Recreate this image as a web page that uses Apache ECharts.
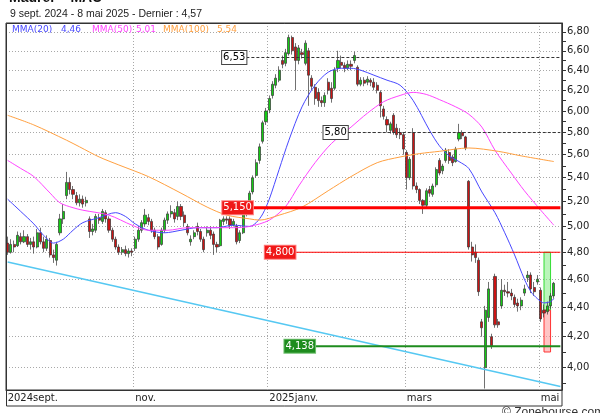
<!DOCTYPE html>
<html>
<head>
<meta charset="utf-8">
<script src="https://cdn.jsdelivr.net/npm/echarts@6/dist/echarts.min.js"></script>
<style>
html, body { margin: 0; padding: 0; background: #fff; }
#chart { width: 600px; height: 413px; }
</style>
</head>
<body>
<div id="chart"></div>
<script>
// Maurel & Prom (MAU) - cours quotidiens 9 sept. 2024 -> 8 mai 2025
var firstDay = '2024-09-09';
var lastDay = '2025-05-08';
var holidays = ['2024-12-25', '2024-12-26', '2025-01-01', '2025-04-18', '2025-04-21', '2025-05-01'];

var tickDates = ['2024-09-09', '2024-11-01', '2025-01-02', '2025-03-03', '2025-05-02'];
var tickLabels = ['2024sept.', 'nov.', '2025janv.', 'mars', 'mai'];

var yLabels = [4.0, 4.2, 4.4, 4.6, 4.8, 5.0, 5.2, 5.4, 5.6, 5.8, 6.0, 6.2, 6.4, 6.6, 6.8];
var yMinorTicks = [3.9, 4.1, 4.3, 4.5, 4.7, 4.9, 5.1, 5.3, 5.5, 5.7, 5.9, 6.1, 6.3, 6.5, 6.7];

var opens = [
  4.87, 4.80, 4.86, 4.85, 4.92, 4.88, 4.92, 4.86, 4.88, 4.84, 4.95, 4.88, 4.83, 4.89, 4.78, 4.74,
  4.95, 5.06, 5.25, 5.36, 5.30, 5.25, 5.19, 5.22, 5.19, 5.06, 4.96, 4.97, 5.07, 5.04, 5.11, 5.06,
  4.97, 4.90, 4.84, 4.80, 4.82, 4.79, 4.81, 4.83, 4.90, 4.97, 5.02, 5.07, 5.04, 4.97, 4.92, 4.86,
  4.97, 5.05, 5.10, 5.11, 5.08, 5.16, 5.09, 5.00, 4.88, 4.92, 5.00, 4.96, 4.90, 4.95, 4.97, 4.94,
  4.86, 4.85, 5.04, 5.06, 5.06, 5.01, 5.00, 4.89, 4.95, 5.12, 5.17, 5.28, 5.42, 5.55, 5.72, 5.90,
  6.01, 6.15, 6.25, 6.30, 6.50, 6.47, 6.57, 6.74, 6.64, 6.50, 6.58, 6.47, 6.60, 6.32, 6.23, 6.18,
  6.10, 6.08, 6.28, 6.22, 6.22, 6.42, 6.48, 6.45, 6.42, 6.46, 6.50, 6.43, 6.26, 6.30, 6.28, 6.30,
  6.28, 6.25, 6.18, 6.02, 5.92, 5.82, 5.96, 5.84, 5.80, 5.78, 5.62, 5.40, 5.80, 5.33, 5.30, 5.21,
  5.17, 5.30, 5.26, 5.34, 5.55, 5.46, 5.55, 5.62, 5.58, 5.54, 5.74, 5.80, 5.76, 5.37, 4.84, 4.80,
  4.74, 4.30, 4.00, 4.33, 4.20, 4.62, 4.30, 4.41, 4.52, 4.51, 4.50, 4.47, 4.43, 4.41, 4.50, 4.61,
  4.63, 4.54, 4.58, 4.52, 4.38, 4.37, 4.41, 4.48
];
var closes = [
  4.80, 4.86, 4.84, 4.93, 4.88, 4.92, 4.86, 4.88, 4.84, 4.95, 4.88, 4.83, 4.90, 4.78, 4.76, 4.86,
  5.06, 5.12, 5.36, 5.30, 5.26, 5.19, 5.22, 5.18, 5.21, 4.96, 4.98, 5.08, 5.05, 5.12, 5.06, 4.97,
  4.90, 4.84, 4.80, 4.82, 4.79, 4.81, 4.80, 4.90, 4.97, 5.03, 5.09, 5.04, 4.97, 4.92, 4.84, 4.97,
  5.05, 5.10, 5.12, 5.06, 5.16, 5.08, 5.03, 4.95, 4.90, 4.95, 4.96, 4.90, 4.82, 4.97, 4.93, 4.86,
  4.84, 5.05, 5.06, 5.05, 5.01, 5.04, 4.88, 4.95, 5.12, 5.15, 5.27, 5.40, 5.53, 5.67, 5.89, 6.00,
  6.12, 6.26, 6.32, 6.40, 6.46, 6.58, 6.74, 6.60, 6.50, 6.63, 6.56, 6.68, 6.35, 6.24, 6.12, 6.10,
  6.08, 6.15, 6.20, 6.12, 6.40, 6.50, 6.45, 6.42, 6.46, 6.44, 6.55, 6.26, 6.30, 6.27, 6.31, 6.28,
  6.23, 6.20, 6.05, 5.95, 5.87, 5.88, 5.80, 5.78, 5.78, 5.65, 5.40, 5.56, 5.33, 5.30, 5.21, 5.17,
  5.29, 5.27, 5.33, 5.47, 5.44, 5.50, 5.64, 5.55, 5.53, 5.65, 5.80, 5.77, 5.66, 4.84, 4.78, 4.76,
  4.51, 4.26, 4.38, 4.53, 4.14, 4.28, 4.28, 4.52, 4.51, 4.50, 4.48, 4.42, 4.41, 4.45, 4.53, 4.63,
  4.53, 4.51, 4.60, 4.32, 4.36, 4.41, 4.48, 4.57
];
var lows = [
  4.78, 4.79, 4.80, 4.84, 4.86, 4.87, 4.84, 4.82, 4.79, 4.83, 4.86, 4.80, 4.81, 4.76, 4.72, 4.70,
  4.93, 5.02, 5.22, 5.26, 5.22, 5.17, 5.16, 5.15, 5.16, 4.91, 4.93, 4.95, 5.02, 5.02, 5.03, 4.95,
  4.88, 4.82, 4.78, 4.78, 4.77, 4.76, 4.77, 4.81, 4.88, 4.95, 5.00, 5.01, 4.95, 4.90, 4.82, 4.85,
  4.95, 5.02, 5.07, 5.03, 5.05, 5.05, 5.00, 4.93, 4.85, 4.90, 4.93, 4.88, 4.80, 4.92, 4.90, 4.78,
  4.80, 4.84, 5.01, 5.02, 4.98, 5.00, 4.86, 4.87, 4.94, 5.08, 5.15, 5.26, 5.40, 5.52, 5.70, 5.87,
  5.98, 6.12, 6.22, 6.28, 6.42, 6.44, 6.55, 6.56, 6.20, 6.46, 6.52, 6.45, 6.05, 6.20, 6.06, 6.04,
  6.04, 6.04, 6.16, 6.08, 6.20, 6.38, 6.42, 6.38, 6.40, 6.40, 6.47, 6.24, 6.24, 6.24, 6.25, 6.24,
  6.20, 6.17, 5.94, 5.92, 5.80, 5.79, 5.78, 5.75, 5.74, 5.60, 5.30, 5.38, 5.30, 5.27, 5.18, 5.10,
  5.15, 5.24, 5.24, 5.32, 5.42, 5.43, 5.53, 5.52, 5.50, 5.53, 5.72, 5.74, 5.64, 4.82, 4.73, 4.72,
  4.48, 4.20, 3.87, 4.30, 4.12, 4.26, 4.26, 4.39, 4.48, 4.47, 4.45, 4.40, 4.37, 4.38, 4.48, 4.58,
  4.50, 4.48, 4.56, 4.30, 4.33, 4.35, 4.39, 4.46
];
var highs = [
  4.92, 4.90, 4.89, 4.96, 4.95, 4.97, 4.94, 4.91, 4.92, 4.98, 4.99, 4.92, 4.93, 4.91, 4.82, 4.88,
  5.10, 5.18, 5.45, 5.40, 5.33, 5.28, 5.26, 5.25, 5.24, 5.08, 5.02, 5.10, 5.10, 5.14, 5.13, 5.08,
  4.99, 4.92, 4.86, 4.84, 4.85, 4.83, 4.83, 4.92, 5.00, 5.05, 5.14, 5.10, 5.06, 4.99, 4.94, 4.99,
  5.07, 5.12, 5.17, 5.14, 5.20, 5.18, 5.12, 5.02, 4.93, 4.97, 5.03, 4.98, 4.92, 5.00, 5.00, 4.96,
  4.88, 5.06, 5.08, 5.08, 5.08, 5.06, 5.02, 4.97, 5.15, 5.18, 5.29, 5.42, 5.56, 5.70, 5.91, 6.03,
  6.15, 6.29, 6.36, 6.44, 6.55, 6.62, 6.77, 6.76, 6.68, 6.66, 6.62, 6.71, 6.63, 6.35, 6.26, 6.22,
  6.14, 6.18, 6.32, 6.28, 6.43, 6.60, 6.55, 6.48, 6.50, 6.50, 6.59, 6.45, 6.33, 6.33, 6.34, 6.32,
  6.32, 6.28, 6.20, 6.05, 5.95, 5.90, 5.98, 5.88, 5.84, 5.80, 5.64, 5.58, 5.84, 5.36, 5.31, 5.22,
  5.31, 5.33, 5.35, 5.49, 5.57, 5.52, 5.66, 5.65, 5.60, 5.67, 5.88, 5.82, 5.77, 5.38, 4.88, 4.86,
  4.76, 4.32, 4.41, 4.58, 4.22, 4.64, 4.32, 4.60, 4.56, 4.58, 4.53, 4.49, 4.46, 4.47, 4.56, 4.66,
  4.65, 4.58, 4.63, 4.54, 4.42, 4.44, 4.50, 4.58
];

// moyennes mobiles : [jour de bourse, cours]
var ma20 = [[0, 5.22], [4, 5.12], [8, 5.02], [11, 4.93], [14, 4.87], [17, 4.90], [20, 4.97], [23, 5.03],
  [28, 5.07], [33, 5.11], [36, 5.08], [39, 5.02], [43, 4.97], [48, 4.95], [53, 4.97], [58, 4.99], [64, 4.99],
  [69, 5.01], [74, 5.00], [76, 5.03], [78, 5.10], [80, 5.22], [83, 5.47], [86, 5.73], [90, 6.04], [94, 6.25],
  [98, 6.38], [102, 6.42], [105, 6.42], [108, 6.40], [112, 6.35], [116, 6.30], [120, 6.25], [124, 6.10],
  [129, 5.82], [132, 5.68], [135, 5.59], [138, 5.54], [141, 5.48], [145, 5.28], [149, 5.11], [152, 4.95],
  [155, 4.78], [158, 4.60], [160, 4.51], [162, 4.46], [164, 4.43], [166, 4.44], [167, 4.46]];
var ma50 = [[0, 5.55], [4, 5.48], [8, 5.41], [13, 5.27], [16, 5.19], [20, 5.15], [23, 5.13], [31, 5.09],
  [38, 5.01], [43, 4.97], [49, 4.97], [55, 4.99], [61, 4.99], [69, 4.99], [74, 5.00], [80, 5.05], [85, 5.16],
  [89, 5.33], [94, 5.53], [99, 5.70], [105, 5.85], [110, 5.98], [115, 6.09], [120, 6.15], [124, 6.18],
  [128, 6.16], [132, 6.11], [137, 6.04], [141, 5.97], [145, 5.85], [149, 5.64], [154, 5.44], [158, 5.29],
  [163, 5.13], [167, 5.01]];
var ma100 = [[0, 5.96], [8, 5.87], [18, 5.73], [22, 5.67], [28, 5.58], [34, 5.51], [43, 5.41], [53, 5.27],
  [61, 5.155], [67, 5.09], [74, 5.06], [77, 5.05], [83, 5.09], [90, 5.155], [98, 5.29], [105, 5.41],
  [113, 5.53], [120, 5.58], [126, 5.61], [132, 5.63], [141, 5.66], [150, 5.63], [157, 5.59], [167, 5.54]];

// ligne de tendance oblique
var trendLine = [[0, 4.727], [169, 3.883]];

// niveaux horizontaux : valeur, jour de depart du trait, texte affiche
var levelValues = [5.15, 4.80, 4.138, 6.53, 5.80];
var levelStarts = [74.5, 88, 94.4, 73, 104];
var levelTexts = ['5,150', '4,800', '4,138', '6,53', '5,80'];

// zones de projection a droite
var zoneUp = [4.80, 4.38];
var zoneDown = [4.38, 4.10];
var zoneFrom = 163.6, zoneTo = 166.1;

var L = Math.log;

function tradingDays(from, to) {
  var out = [];
  var d = new Date(from + 'T00:00:00Z');
  var end = new Date(to + 'T00:00:00Z');
  while (d <= end) {
    var s = d.toISOString().slice(0, 10);
    var wd = d.getUTCDay();
    if (wd !== 0 && wd !== 6 && holidays.indexOf(s) < 0) out.push(s);
    d.setUTCDate(d.getUTCDate() + 1);
  }
  return out;
}

function fmt(v, n) {
  return v.toFixed(n).replace('.', ',');
}

var dates = tradingDays(firstDay, lastDay);
var candles = dates.map(function (d, i) {
  return [L(opens[i]), L(closes[i]), L(lows[i]), L(highs[i])];
});
function toLog(pts) {
  return pts.map(function (p) { return [p[0], L(p[1])]; });
}

var chart = echarts.init(document.getElementById('chart'));

var lvlStyle = [
  { line: { color: '#ff0000', width: 3, type: 'solid' }, bg: '#f01818', fg: '#fff', border: '#ff8080' },
  { line: { color: '#ff0000', width: 1.2, type: 'solid' }, bg: '#f01818', fg: '#fff', border: '#ff8080' },
  { line: { color: '#1e8c1e', width: 2, type: 'solid' }, bg: '#1e8c1e', fg: '#fff', border: '#70c070' },
  { line: { color: '#333', width: 1, type: [3, 2] }, bg: '#fff', fg: '#000', border: '#444' },
  { line: { color: '#333', width: 1, type: [3, 2] }, bg: '#fff', fg: '#000', border: '#444' }
];

var levelSeries = levelValues.map(function (v, k) {
  var st = lvlStyle[k];
  return {
    name: 'niveau ' + levelTexts[k],
    type: 'line',
    z: 4,
    silent: true,
    symbol: 'rect',
    symbolSize: 0.01,
    showSymbol: true,
    lineStyle: st.line,
    itemStyle: { color: st.line.color },
    data: [
      {
        value: [levelStarts[k], L(v)],
        label: {
          show: true, position: 'left', distance: 0, formatter: levelTexts[k],
          color: st.fg, backgroundColor: st.bg, borderColor: st.border, borderWidth: 1,
          padding: [2, 1, 1, 1], fontFamily: 'DejaVu Sans', fontSize: 10
        }
      },
      [169, L(v)]
    ]
  };
});

var legendItems = [
  { name: 'MMA(20)', val: ma20[ma20.length - 1][1], color: '#4848ff', x: 12, vx: 61 },
  { name: 'MMA(50)', val: ma50[ma50.length - 1][1], color: '#ff44ff', x: 92, vx: 136 },
  { name: 'MMA(100)', val: ma100[ma100.length - 1][1], color: '#ffa040', x: 163, vx: 217 }
];
var graphics = [
  { type: 'text', left: 9, top: -9, style: { text: 'Maurel  - MAU', font: 'bold 14px "Liberation Sans", Arial', fill: '#111' } },
  { type: 'text', left: 10, top: 9, style: { text: '9 sept. 2024 - 8 mai 2025 - Dernier : ' + fmt(closes[closes.length - 1], 2), font: '10.5px "Liberation Sans", Arial', fill: '#222' } },
  { type: 'rect', shape: { x: 6.5, y: 23.5, width: 555.5, height: 382.5 }, style: { fill: 'none', stroke: '#333', lineWidth: 1 }, z: 10 },
  { type: 'text', left: 502, top: 407, style: { text: '\u00a9 Zonebourse.com', font: '12px "Liberation Sans", Arial', fill: '#333' } }
];
legendItems.forEach(function (it) {
  graphics.push({ type: 'text', left: it.x, top: 25, style: { text: it.name, font: '9px "DejaVu Sans"', fill: it.color } });
  graphics.push({ type: 'text', left: it.vx, top: 25, style: { text: fmt(it.val, 2), font: '9px "DejaVu Sans"', fill: it.color } });
});

function isTick(v) { return tickDates.indexOf(v) >= 0; }

var option = {
  backgroundColor: '#fff',
  animation: false,
  grid: { left: 6, right: 38, top: 23, bottom: 23, show: true, borderColor: '#333', borderWidth: 1 },
  xAxis: {
    type: 'category',
    data: dates,
    max: 169,
    boundaryGap: true,
    axisLine: { lineStyle: { color: '#333' } },
    axisTick: {
      interval: function (i, v) { return isTick(v); },
      length: 16,
      lineStyle: { color: '#888' }
    },
    axisLabel: {
      interval: function (i, v) { return isTick(v); },
      formatter: function (v) { return tickLabels[tickDates.indexOf(v)]; },
      align: 'left',
      margin: 3,
      fontFamily: 'DejaVu Sans',
      fontSize: 10,
      color: '#222'
    },
    splitLine: {
      show: true,
      interval: function (i, v) { return i > 0 && isTick(v); },
      lineStyle: { color: '#a8a8a8', type: [1, 2] }
    }
  },
  yAxis: [
    {
      type: 'value',
      position: 'right',
      min: L(3.861),
      max: L(6.896),
      axisLine: { show: true, lineStyle: { color: '#333' } },
      axisTick: { show: true, length: 4, customValues: yLabels.map(L), lineStyle: { color: '#333' } },
      axisLabel: {
        customValues: yLabels.map(L),
        formatter: function (v) { return fmt(Math.exp(v), 2); },
        margin: 5,
        fontFamily: 'DejaVu Sans',
        fontSize: 10,
        color: '#222'
      },
      splitLine: { show: true, lineStyle: { color: '#a8a8a8', type: [1, 2] } }
    },
    {
      type: 'value',
      position: 'right',
      min: L(3.861),
      max: L(6.896),
      axisLine: { show: false },
      axisTick: { show: true, length: 4, customValues: yMinorTicks.map(L), lineStyle: { color: '#333' } },
      axisLabel: { show: false },
      splitLine: { show: false }
    }
  ],
  series: [
    { name: 'tendance', type: 'line', data: toLog(trendLine), symbol: 'none', silent: true, lineStyle: { color: '#55c8f2', width: 1.5 } },
    {
      name: 'MAU',
      type: 'candlestick',
      data: candles,
      barWidth: 2.6,
      itemStyle: {
        color: '#14cc14', color0: '#cc1414',
        borderColor: '#333', borderColor0: '#333', borderWidth: 0.7
      },
      markArea: {
        silent: true,
        data: [
          [{ coord: [zoneFrom, L(zoneUp[0])], itemStyle: { color: 'rgba(120,235,120,0.5)', borderColor: '#33dd33', borderWidth: 1 } },
           { coord: [zoneTo, L(zoneUp[1])] }],
          [{ coord: [zoneFrom, L(zoneDown[0])], itemStyle: { color: 'rgba(255,150,150,0.55)', borderColor: '#ff3333', borderWidth: 1 } },
           { coord: [zoneTo, L(zoneDown[1])] }]
        ]
      }
    },
    { name: 'MMA(20)', type: 'line', data: toLog(ma20), smooth: 0.3, symbol: 'none', silent: true, lineStyle: { color: '#4848ff', width: 1 } },
    { name: 'MMA(50)', type: 'line', data: toLog(ma50), smooth: 0.3, symbol: 'none', silent: true, lineStyle: { color: '#ff44ff', width: 1 } },
    { name: 'MMA(100)', type: 'line', data: toLog(ma100), smooth: 0.3, symbol: 'none', silent: true, lineStyle: { color: '#ffa040', width: 1 } }
  ].concat(levelSeries),
  graphic: graphics
};

chart.setOption(option);
</script>
</body>
</html>
